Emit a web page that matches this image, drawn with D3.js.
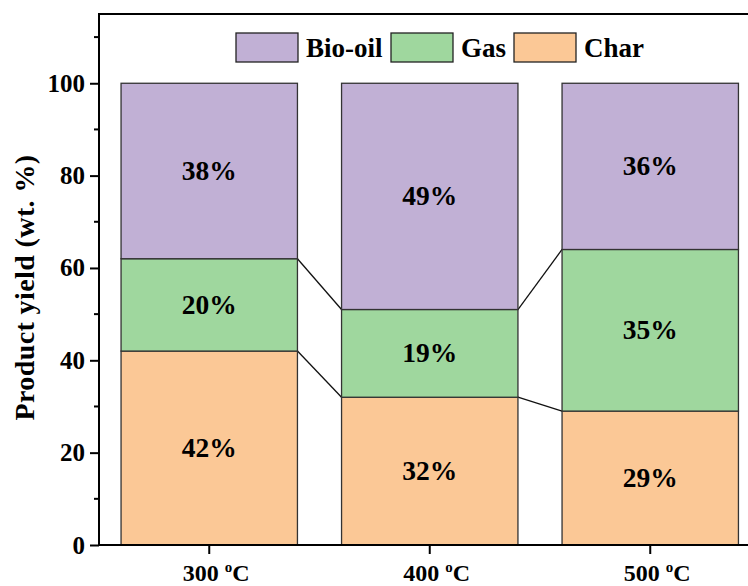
<!DOCTYPE html>
<html>
<head>
<meta charset="utf-8">
<script src="https://cdn.jsdelivr.net/npm/d3@7"></script>
<style>
  html, body { margin: 0; padding: 0; background: #fff; }
  svg { display: block; }
  text { font-family: "Liberation Serif", "Times New Roman", serif; font-weight: bold; fill: #000; }
</style>
</head>
<body>
<svg id="chart" width="748" height="586"></svg>
<script>
// Pyrolysis temperatures and product yields (wt.%)
const temperatures = ["300", "400", "500"];
const charYield = [42, 32, 29];
const gasYield = [20, 19, 35];
const bioOilYield = [38, 49, 36];
const seriesNames = ["Char", "Gas", "Bio-oil"];
const seriesColors = ["#FBC896", "#9FD79E", "#C1B0D5"];
const yTicks = [0, 20, 40, 60, 80, 100];
const yMinorTicks = [10, 30, 50, 70, 90, 110];

const FONT = "Liberation Serif, Times New Roman, serif";

const rows = temperatures.map((t, i) => ({
  temp: t, "Char": charYield[i], "Gas": gasYield[i], "Bio-oil": bioOilYield[i]
}));

const svg = d3.select("#chart");
const plotLeft = 99, plotTop = 14, plotBottom = 545;
const step = 220.5;
const plotRight = plotLeft + step * 3;

const x = d3.scaleBand().domain(temperatures).range([plotLeft, plotRight]).paddingInner(0.2).paddingOuter(0.1);
const y = d3.scaleLinear().domain([0, 115]).range([plotBottom, plotTop]);

const stacked = d3.stack().keys(seriesNames)(rows);

// Connector lines between bars at each internal boundary
const boundaries = stacked.slice(0, 2);
boundaries.forEach(layer => {
  for (let i = 0; i < rows.length - 1; i++) {
    svg.append("line")
      .attr("x1", x(rows[i].temp) + x.bandwidth())
      .attr("y1", y(layer[i][1]))
      .attr("x2", x(rows[i + 1].temp))
      .attr("y2", y(layer[i + 1][1]))
      .attr("stroke", "#111").attr("stroke-width", 1.3);
  }
});

// Stacked bars
const groups = svg.selectAll("g.layer").data(stacked).join("g")
  .attr("class", "layer")
  .attr("fill", (d, i) => seriesColors[i]);

groups.selectAll("rect").data(d => d).join("rect")
  .attr("x", d => x(d.data.temp))
  .attr("y", d => y(d[1]))
  .attr("width", x.bandwidth())
  .attr("height", d => y(d[0]) - y(d[1]))
  .attr("stroke", "#333").attr("stroke-width", 1.3);

// Percentage labels centred in each segment
groups.selectAll("text").data(d => d.map(v => ({ v, key: d.key }))).join("text")
  .attr("x", d => x(d.v.data.temp) + x.bandwidth() / 2)
  .attr("y", d => y((d.v[0] + d.v[1]) / 2))
  .attr("dy", "0.33em")
  .attr("text-anchor", "middle")
  .attr("font-family", FONT).attr("font-weight", "bold")
  .attr("font-size", 27.5)
  .attr("fill", "#000")
  .text(d => d.v.data[d.key] + "%");

// Frame
svg.append("rect")
  .attr("x", plotLeft).attr("y", plotTop)
  .attr("width", plotRight - plotLeft).attr("height", plotBottom - plotTop)
  .attr("fill", "none").attr("stroke", "#000").attr("stroke-width", 2);

// Y axis
const yAxis = svg.append("g").attr("transform", `translate(${plotLeft},0)`)
  .call(d3.axisLeft(y).tickValues(yTicks).tickSize(9).tickPadding(5).tickFormat(d3.format("d")));
yAxis.attr("font-family", FONT);
yAxis.select(".domain").remove();
yAxis.selectAll(".tick line").attr("stroke", "#000").attr("stroke-width", 2);
yAxis.selectAll(".tick text").attr("font-size", 25).attr("font-family", FONT).attr("font-weight", "bold").attr("fill", "#000");

svg.append("g").selectAll("line").data(yMinorTicks).join("line")
  .attr("x1", plotLeft - 5).attr("x2", plotLeft)
  .attr("y1", d => y(d)).attr("y2", d => y(d))
  .attr("stroke", "#000").attr("stroke-width", 2);

// X axis
const xAxis = svg.append("g").attr("transform", `translate(0,${plotBottom})`)
  .call(d3.axisBottom(x).tickSize(9).tickPadding(6).tickFormat(""));
xAxis.select(".domain").remove();
xAxis.selectAll(".tick line").attr("stroke", "#000").attr("stroke-width", 2);

const xl = svg.append("g").selectAll("text").data(temperatures).join("text")
  .attr("x", d => x(d) + x.bandwidth() / 2 + 7)
  .attr("y", 581)
  .attr("text-anchor", "middle")
  .attr("font-family", FONT).attr("font-weight", "bold")
  .attr("font-size", 24);
xl.append("tspan").text(d => d + " ");
xl.append("tspan").attr("font-size", 15).attr("dy", -9).text("o");
xl.append("tspan").attr("dy", 9).text("C");

// Y axis title
svg.append("text")
  .attr("transform", `translate(34,${(plotTop + plotBottom) / 2 + 8}) rotate(-90)`)
  .attr("text-anchor", "middle")
  .attr("font-family", FONT).attr("font-weight", "bold")
  .attr("font-size", 28)
  .attr("letter-spacing", 0.4)
  .text("Product yield (wt. %)");

// Legend
const legendItems = ["Bio-oil", "Gas", "Char"];
const legendX = [236, 391, 514];
const legend = svg.append("g").selectAll("g").data(legendItems).join("g")
  .attr("transform", (d, i) => `translate(${legendX[i]},33)`);
legend.append("rect")
  .attr("width", 62).attr("height", 29)
  .attr("fill", d => seriesColors[seriesNames.indexOf(d)])
  .attr("stroke", "#222").attr("stroke-width", 1.3);
legend.append("text")
  .attr("x", 70).attr("y", 24)
  .attr("font-family", FONT).attr("font-weight", "bold")
  .attr("font-size", 27)
  .text(d => d);
</script>
</body>
</html>
